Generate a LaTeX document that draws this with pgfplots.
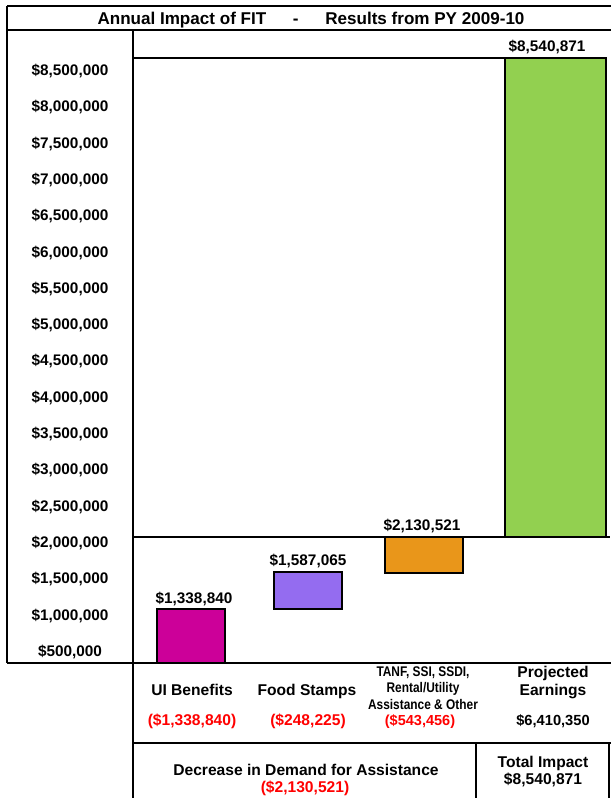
\documentclass[border=0pt]{standalone}
\usepackage{fontspec}
\setmainfont{Liberation Sans}
\newfontfamily\narrowfont[FakeStretch=0.85]{Liberation Sans}
\usepackage{pgfplots}
\pgfplotsset{compat=1.18}
\definecolor{pinkc}{RGB}{204,0,153}
\definecolor{purplec}{RGB}{148,108,240}
\definecolor{orangec}{RGB}{233,150,26}
\definecolor{greenc}{RGB}{146,208,80}
\begin{document}
\begin{tikzpicture}
\useasboundingbox (0,0) rectangle (457.5pt,598.5pt);
\begin{axis}[
  at={(99.75pt,101.25pt)}, anchor=south west,
  width=357.75pt, height=474.75pt, scale only axis,
  xmin=133, xmax=610, ymin=348400, ymax=9064400,
  axis line style={draw=none},
  major tick length=0pt,
  clip=false,
  scaled y ticks=false,
  ytick={500000,1000000,1500000,2000000,2500000,3000000,3500000,4000000,4500000,5000000,5500000,6000000,6500000,7000000,7500000,8000000,8500000},
  yticklabels={{\$500,000},{\$1,000,000},{\$1,500,000},{\$2,000,000},{\$2,500,000},{\$3,000,000},{\$3,500,000},{\$4,000,000},{\$4,500,000},{\$5,000,000},{\$5,500,000},{\$6,000,000},{\$6,500,000},{\$7,000,000},{\$7,500,000},{\$8,000,000},{\$8,500,000}},
  yticklabel style={anchor=center, xshift=-47.25pt, inner sep=0pt, font=\bfseries\fontsize{11.5pt}{13pt}\selectfont},
  xtick={192,307,423,553},
  xticklabels={
    {\rule{0pt}{24.45pt}UI Benefits},
    {\rule{0pt}{24.45pt}Food Stamps},
    {\narrowfont\fontsize{10.5pt}{12.4pt}\selectfont\begin{tabular}[t]{@{}c@{}}\rule{0pt}{9.75pt}TANF, SSI, SSDI,\\Rental/Utility\\Assistance \& Other\end{tabular}},
    {\begin{tabular}[t]{@{}c@{}}\rule{0pt}{10.95pt}Projected\\Earnings\end{tabular}}},
  xticklabel style={anchor=north, inner sep=0pt, font=\bfseries\fontsize{11.7pt}{13.5pt}\selectfont},
  extra x ticks={192,308,420,553},
  extra x tick labels={
    {\rule{0pt}{46.9pt}\textcolor{red}{(\$1,338,840)}},
    {\rule{0pt}{46.9pt}\textcolor{red}{(\$248,225)}},
    {\fontsize{10.9pt}{12pt}\selectfont\rule{0pt}{46.9pt}\textcolor{red}{(\$543,456)}},
    {\fontsize{11pt}{12pt}\selectfont\rule{0pt}{46.9pt}\$6,410,350}},
]
% reference lines (total decrease level and total impact level)
\addplot[black, line width=0.8pt] coordinates {(133,2083300) (610,2083300)};
\addplot[black, line width=0.8pt] coordinates {(133,8678800) (505,8678800)};
% floating bars
\addplot[draw=black, line width=1.2pt, fill=pinkc] coordinates {(157,348400) (157,1091900) (225,1091900) (225,348400)} -- cycle;
\addplot[draw=black, line width=1.2pt, fill=purplec] coordinates {(274,1091900) (274,1601400) (342,1601400) (342,1091900)} -- cycle;
\addplot[draw=black, line width=1.2pt, fill=orangec] coordinates {(385,1587600) (385,2083300) (463,2083300) (463,1587600)} -- cycle;
\addplot[draw=black, line width=1.2pt, fill=greenc] coordinates {(505,2083300) (505,8678800) (606,8678800) (606,2083300)} -- cycle;
% value labels
\addplot[draw=none, mark=none, nodes near coords, point meta=explicit symbolic,
  nodes near coords style={anchor=base, yshift=4.5pt, inner sep=0pt, text=black, font=\bfseries\fontsize{11.5pt}{13pt}\selectfont}]
  coordinates {(194,1091900) [\$1,338,840] (308,1601400) [\$1,587,065] (422,2083300) [\$2,130,521] (547,8678800) [\$8,540,871]};
\end{axis}
\begin{scope}[x=0.75pt, y=-0.75pt, shift={(0pt,598.5pt)}, line width=1.1pt]
\draw (7,6) -- (612,6);
\draw (7,30) -- (612,30);
\draw (7,6) -- (7,663);
\draw (7,663) -- (612,663);
\draw (133,30) -- (133,800);
\draw (133,743) -- (612,743);
\draw (476,743) -- (476,800);
\draw (609,743) -- (609,800);
\node[anchor=base, inner sep=0pt, font=\bfseries\fontsize{12.8pt}{14pt}\selectfont] at (311,24.2) {Annual Impact of FIT\hspace{20pt}-\hspace{20pt}Results from PY 2009-10};
\node[anchor=base, inner sep=0pt, font=\bfseries\fontsize{11.7pt}{13.5pt}\selectfont] at (306,775.6) {Decrease in Demand for Assistance};
\node[anchor=base, inner sep=0pt, font=\bfseries\fontsize{11.7pt}{13.5pt}\selectfont, text=red] at (305,792.6) {(\$2,130,521)};
\node[anchor=base, inner sep=0pt, font=\bfseries\fontsize{11.7pt}{13.5pt}\selectfont] at (543,767.6) {Total Impact};
\node[anchor=base, inner sep=0pt, font=\bfseries\fontsize{11.7pt}{13.5pt}\selectfont] at (543,784.6) {\$8,540,871};
\end{scope}
\end{tikzpicture}
\end{document}
